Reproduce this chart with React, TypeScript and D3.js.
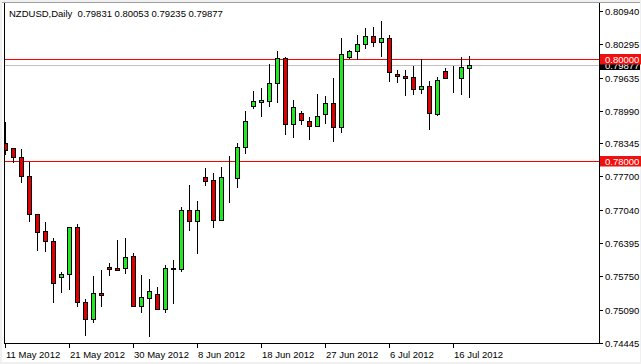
import React from "react";
import * as d3 from "d3";

const symbolTitle = "NZDUSD,Daily  0.79831 0.80053 0.79235 0.79877";

const opens = [
  0.7836, 0.7825, 0.78085, 0.77701, 0.76957, 0.76624, 0.76428, 0.75734, 0.75781, 0.76702,
  0.75233, 0.74905, 0.75415, 0.7593, 0.75899, 0.75899, 0.7614, 0.75166, 0.75323, 0.75389,
  0.75095, 0.75891, 0.75879, 0.77035, 0.7682, 0.77682, 0.77623, 0.76845, 0.77674, 0.77662,
  0.7827, 0.79085, 0.79163, 0.79183, 0.79523, 0.80013, 0.7872, 0.78936, 0.78785, 0.78693,
  0.78916, 0.79132, 0.78661, 0.80033, 0.80147, 0.80288, 0.8045, 0.80327, 0.80405, 0.79696,
  0.79672, 0.79641, 0.79406, 0.79465, 0.78928, 0.79761, 0.79637, 0.79621, 0.79831,
];
const highs = [
  0.78771, 0.78256, 0.7823, 0.77987, 0.76957, 0.768, 0.76487, 0.75826, 0.76702, 0.76767,
  0.75291, 0.75754, 0.75865, 0.76003, 0.76453, 0.76492, 0.76193, 0.75767, 0.75683, 0.75527,
  0.75963, 0.76061, 0.77094, 0.77531, 0.77217, 0.77858, 0.7776, 0.77889, 0.78105, 0.7836,
  0.78981, 0.79363, 0.79426, 0.79902, 0.80156, 0.80033, 0.79196, 0.78987, 0.78857, 0.79308,
  0.79275, 0.79621, 0.80405, 0.80176, 0.8046, 0.80601, 0.80632, 0.80744, 0.8047, 0.79784,
  0.79784, 0.79862, 0.7999, 0.79578, 0.79647, 0.79819, 0.79868, 0.80045, 0.80053,
];
const lows = [
  0.78128, 0.77962, 0.77576, 0.76812, 0.76244, 0.76224, 0.75225, 0.75421, 0.75474, 0.75146,
  0.74578, 0.74821, 0.75146, 0.75754, 0.75852, 0.75781, 0.75146, 0.75017, 0.74559, 0.75082,
  0.75017, 0.75199, 0.75832, 0.76635, 0.76185, 0.77517, 0.76694, 0.76825, 0.77184, 0.77478,
  0.78132, 0.79026, 0.78869, 0.79065, 0.79143, 0.7851, 0.78458, 0.78712, 0.78413, 0.78673,
  0.7872, 0.78379, 0.7855, 0.7999, 0.7998, 0.80195, 0.80229, 0.80045, 0.79555, 0.79523,
  0.79284, 0.79288, 0.79308, 0.78599, 0.78873, 0.79614, 0.79339, 0.79294, 0.79235,
];
const closes = [
  0.78217, 0.78085, 0.77707, 0.76957, 0.76616, 0.76428, 0.75605, 0.75787, 0.76702, 0.75233,
  0.749, 0.75409, 0.7537, 0.75879, 0.75865, 0.7612, 0.75166, 0.75331, 0.75454, 0.75101,
  0.75899, 0.75899, 0.77035, 0.7682, 0.77035, 0.77615, 0.76851, 0.77682, 0.77662, 0.7827,
  0.78785, 0.79177, 0.7919, 0.79523, 0.80013, 0.7872, 0.79053, 0.78804, 0.78693, 0.78889,
  0.79132, 0.78661, 0.80092, 0.80156, 0.80293, 0.8045, 0.80327, 0.80405, 0.79739, 0.79676,
  0.79621, 0.79406, 0.79465, 0.78936, 0.79584, 0.79633, 0.79623, 0.79837, 0.79877,
];

const priceTicks = [0.8094, 0.80295, 0.79635, 0.7899, 0.78345, 0.777, 0.7704, 0.76395, 0.7575, 0.7509, 0.74445];
const dateTickIndex = [0, 8, 16, 24, 32, 40, 48, 56];
const dateTickLabels = ["11 May 2012", "21 May 2012", "30 May 2012", "8 Jun 2012", "18 Jun 2012", "27 Jun 2012", "6 Jul 2012", "16 Jul 2012"];
const levelLines = [0.8, 0.78];
const currentPrice = 0.79877;

const W = 641;
const H = 364;
const plotL = 4;
const plotR = 599;
const plotT = 3;
const plotB = 343;
const FONT = "'Liberation Sans', Arial, sans-serif";
const UP = "#22e822";
const DOWN = "#e00000";
const LEVEL = "#ff0000";

export default function App() {
  const x = d3.scaleLinear().domain([0, 58]).range([5, 469]);
  const y = d3.scaleLinear().domain([0.74445, 0.8094]).range([342.5, 11]);
  const fmt = d3.format(".5f");

  const candles = opens.map((o, i) => {
    const c = closes[i];
    const px = Math.round(x(i));
    const top = Math.round(y(Math.max(o, c)));
    const bot = Math.round(y(Math.min(o, c)));
    return (
      <g key={i}>
        <line x1={px + 0.5} x2={px + 0.5} y1={Math.round(y(highs[i]))} y2={Math.round(y(lows[i]))} stroke="#000" strokeWidth={1} />
        <rect
          x={px - 1.5}
          y={top + 0.5}
          width={4}
          height={Math.max(bot - top, 0)}
          fill={c >= o ? UP : DOWN}
          stroke="#000"
          strokeWidth={1}
        />
      </g>
    );
  });

  const cy = Math.round(y(currentPrice));

  return (
    <div>
      <style>{`body{margin:0}`}</style>
      <svg width={W} height={H} style={{ display: "block" }}>
        <defs>
          <clipPath id="plotClip">
            <rect x={plotL + 1} y={plotT + 1} width={plotR - plotL - 1} height={plotB - plotT - 1} />
          </clipPath>
        </defs>
        <rect x={0} y={0} width={W} height={H} fill="#f0f0f0" />
        <rect x={2} y={2} width={638} height={360} fill="#fff" />
        <line x1={2} x2={640} y1={2.5} y2={2.5} stroke="#a0a0a0" />

        <line x1={plotL} x2={plotR} y1={cy + 0.5} y2={cy + 0.5} stroke="#c0c0c0" />
        {levelLines.map((v) => (
          <rect key={v} x={plotL + 1} y={Math.round(y(v))} width={plotR - plotL - 1} height={1} fill={LEVEL} shapeRendering="crispEdges" />
        ))}
        <g clipPath="url(#plotClip)">{candles}</g>

        {/* frame */}
        <line x1={plotL + 0.5} x2={plotL + 0.5} y1={plotT} y2={plotB + 1} stroke="#000" />
        <line x1={plotR + 0.5} x2={plotR + 0.5} y1={plotT} y2={plotB + 1} stroke="#000" />
        <line x1={plotL} x2={plotR + 1} y1={plotB + 0.5} y2={plotB + 0.5} stroke="#000" />

        {/* price axis */}
        {priceTicks.map((v) => {
          const ty = Math.round(y(v));
          return (
            <g key={v}>
              <line x1={plotR + 1} x2={plotR + 4} y1={ty + 0.5} y2={ty + 0.5} stroke="#000" />
              <text x={605} y={ty + 4} fontFamily={FONT} fontSize={9.5} fill="#000">
                {fmt(v)}
              </text>
            </g>
          );
        })}

        {/* current price label */}
        <rect x={plotR + 1} y={cy - 5} width={40} height={10} fill="#000" />
        <text x={605} y={cy + 4} fontFamily={FONT} fontSize={9.5} fill="#fff">
          {fmt(currentPrice)}
        </text>

        {levelLines.map((v) => {
          const ly = Math.round(y(v));
          return (
            <g key={"l" + v}>
              <rect x={plotR + 1} y={ly - 5} width={41} height={10.5} fill="#f01010" />
              <text x={605} y={ly + 4} fontFamily={FONT} fontSize={9.5} fill="#fff">
                {fmt(v)}
              </text>
            </g>
          );
        })}

        {/* date axis */}
        {dateTickIndex.map((idx, k) => {
          const px = Math.round(x(idx));
          return (
            <g key={idx}>
              <line x1={px + 0.5} x2={px + 0.5} y1={plotB + 1} y2={plotB + 5} stroke="#000" />
              <text x={px + 1} y={357.5} fontFamily={FONT} fontSize={9.5} fill="#000">
                {dateTickLabels[k]}
              </text>
            </g>
          );
        })}

        <text x={9} y={17} fontFamily={FONT} fontSize={9.5} fill="#000" style={{ whiteSpace: "pre" }}>
          {symbolTitle}
        </text>
      </svg>
    </div>
  );
}
